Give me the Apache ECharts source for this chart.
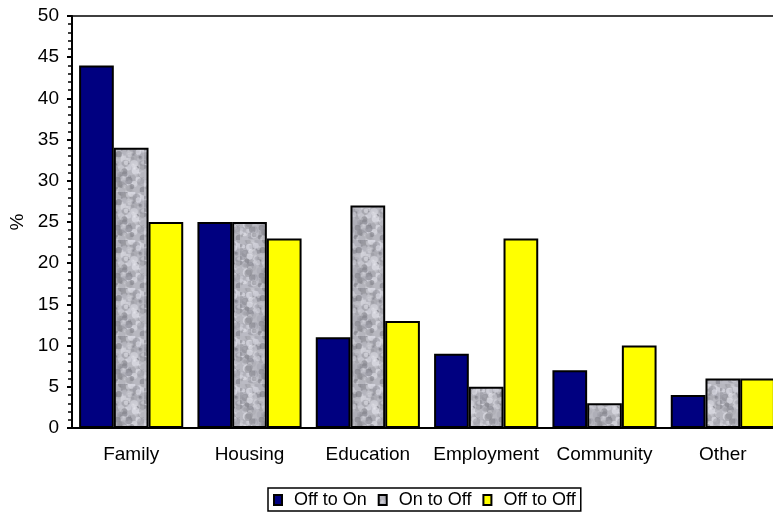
<!DOCTYPE html>
<html><head><meta charset="utf-8">
<script src="https://cdn.jsdelivr.net/npm/echarts@6/dist/echarts.min.js"></script>
<style>html,body{margin:0;padding:0;background:#fff}#c{width:773px;height:513px}</style>
</head><body><div id="c"></div>
<script>
const categories = ['Family','Housing','Education','Employment','Community','Other'];
const offToOn = [44, 25, 11, 9, 7, 4];
const onToOff = [34, 25, 27, 5, 3, 6];
const offToOff = [25, 23, 13, 23, 10, 6];
const seriesNames = ['Off to On','On to Off','Off to Off'];

// granite-like texture for the grey bars (style only)
function makeTexture(){
  const cv = document.createElement('canvas');
  cv.width = 48; cv.height = 48;
  const ctx = cv.getContext('2d');
  ctx.fillStyle = '#b8b8c0'; ctx.fillRect(0,0,48,48);
  let s = 12345;
  function r(){ s = (s*1103515245 + 12345) & 0x7fffffff; return s/0x7fffffff; }
  for(let i=0;i<220;i++){
    const x=r()*48, y=r()*48, rad=1+r()*3;
    const g = Math.floor(120 + r()*120);
    ctx.fillStyle = 'rgba('+g+','+g+','+(g+8)+',0.55)';
    ctx.beginPath(); ctx.arc(x,y,rad,0,Math.PI*2); ctx.fill();
  }
  return cv;
}
const tex = makeTexture();

const chart = echarts.init(document.getElementById('c'), null, {renderer:'canvas'});
const font = 'Liberation Sans, Arial, sans-serif';
chart.setOption({
  animation:false,
  grid:{left:72, top:16, width:710, height:412, outerBoundsMode:'none', containLabel:false},
  legend:{
    bottom:2, left:268, itemWidth:8, itemHeight:10, itemGap:11,
    borderColor:'#000', borderWidth:1.5, padding:[3,5,2,5],
    textStyle:{fontFamily:font, fontSize:18, color:'#000', padding:[0,0,0,7]},
    data:seriesNames.map(n=>({name:n, icon:'rect'}))
  },
  xAxis:[{
    type:'category', data:categories,
    axisLine:{lineStyle:{color:'#000', width:2}},
    axisTick:{show:false},
    axisLabel:{interval:0, margin:17, fontFamily:font, fontSize:19, color:'#000'}
  },{
    type:'category', position:'top', data:categories,
    axisLine:{lineStyle:{color:'#000', width:1.5}},
    axisTick:{show:false}, axisLabel:{show:false}
  }],
  yAxis:{
    type:'value', min:0, max:50, interval:5,
    name:'%', nameLocation:'middle', nameGap:44, nameRotate:90,
    nameTextStyle:{fontFamily:font, fontSize:19, color:'#000'},
    axisLine:{show:true, lineStyle:{color:'#000', width:2}},
    axisTick:{show:true, length:5, lineStyle:{color:'#000', width:2}},
    minorTick:{show:true, splitNumber:5, length:4, lineStyle:{color:'#000', width:1.5}},
    splitLine:{show:false},
    axisLabel:{margin:13, fontFamily:font, fontSize:19, color:'#000'}
  },
  series:[
    {name:seriesNames[0], type:'bar', data:offToOn, barGap:'0%', barCategoryGap:'12%',
     itemStyle:{color:'#000080', borderColor:'#000', borderWidth:2}},
    {name:seriesNames[1], type:'bar', data:onToOff,
     itemStyle:{color:{image:tex, repeat:'repeat'}, borderColor:'#000', borderWidth:2}},
    {name:seriesNames[2], type:'bar', data:offToOff,
     itemStyle:{color:'#ffff00', borderColor:'#000', borderWidth:2}}
  ]
});
</script></body></html>
